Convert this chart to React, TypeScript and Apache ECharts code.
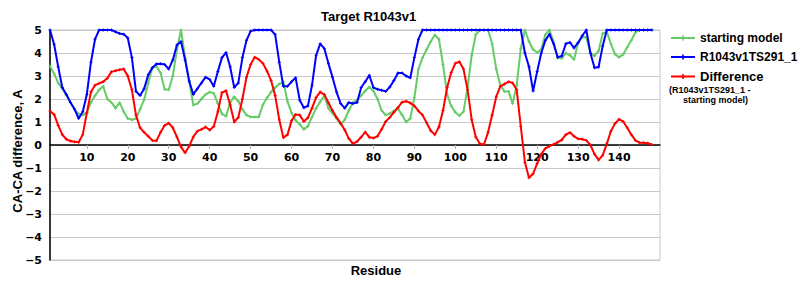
import { useEffect, useRef } from "react";
import * as echarts from "echarts";

// Residue numbers (x positions)
const residues: number[] = Array.from({ length: 148 }, (_, i) => i + 1);

// CA-CA difference of the starting model
const startingModel: number[] = [
  3.43, 3.1, 2.7, 2.46, 2.15, 1.85, 1.55, 1.35, 1.3, 1.4,
  1.85, 2.15, 2.4, 2.55, 2.0, 1.85, 1.6, 1.84, 1.45, 1.15,
  1.1, 1.15, 1.55, 1.97, 2.7, 3.36, 3.42, 3.14, 2.42, 2.4,
  3.0, 4.15, 5.0, 3.8, 2.8, 1.74, 1.8, 2.0, 2.2, 2.3,
  2.25, 1.8, 1.35, 1.25, 1.85, 2.1, 1.9, 1.55, 1.3, 1.22,
  1.22, 1.22, 1.75, 2.05, 2.3, 2.5, 2.65, 2.75, 1.9, 1.4,
  1.08, 0.9, 0.68, 0.82, 1.22, 1.6, 1.88, 2.15, 1.6, 1.38,
  1.15, 0.9, 1.1, 1.5, 1.85, 1.95, 2.15, 2.35, 2.52, 2.35,
  2.0, 1.5, 1.3, 1.37, 1.48, 1.58, 1.3, 1.0, 1.15, 2.05,
  3.3, 3.8, 4.15, 4.5, 4.78, 4.6, 3.5, 2.2, 1.7, 1.42,
  1.27, 1.45, 2.5, 3.9, 4.8, 5.0, 5.0, 5.0, 4.4, 3.3,
  2.6, 2.33, 2.33, 1.8, 2.6, 4.2, 5.0, 4.5, 4.15, 4.02,
  4.16, 4.8, 5.0, 4.5, 3.78, 3.77, 4.0, 3.9, 3.72, 4.45,
  4.68, 4.68, 4.0, 3.87, 4.09, 4.85, 4.92, 4.4, 3.95, 3.82,
  3.94, 4.25, 4.55, 4.9, 5.0, 5.0, 5.0, 5.0,
];

// CA-CA difference of R1043v1TS291_1
const model291: number[] = [
  5.0, 4.38, 3.4, 2.5, 2.2, 1.85, 1.55, 1.15, 1.45, 2.2,
  3.6, 4.6, 5.0, 5.0, 5.0, 5.0, 4.92, 4.85, 4.82, 4.65,
  3.8, 2.33, 2.15, 2.45, 3.05, 3.36, 3.52, 3.53, 3.5, 3.3,
  3.7, 4.35, 4.5, 3.7, 2.77, 2.2, 2.45, 2.7, 2.95, 2.85,
  2.55, 3.2, 3.8, 4.02, 3.4, 2.5, 2.7, 3.8, 4.55, 4.95,
  5.0, 5.0, 5.0, 5.0, 5.0, 4.8, 3.6, 2.55, 2.55, 2.75,
  2.92, 1.95, 1.62, 1.7, 2.6, 3.9, 4.4, 4.2, 3.55, 2.95,
  2.3, 1.8, 1.6, 1.85, 1.8, 1.85, 2.5, 2.75, 3.03, 2.5,
  2.42, 2.38, 2.33, 2.52, 2.8, 3.13, 3.13, 3.0, 2.92, 3.8,
  4.6, 5.0, 5.0, 5.0, 5.0, 5.0, 5.0, 5.0, 5.0, 5.0,
  5.0, 5.0, 5.0, 5.0, 5.0, 5.0, 5.0, 5.0, 5.0, 5.0,
  5.0, 5.0, 5.0, 5.0, 5.0, 5.0, 4.0, 3.4, 2.35, 3.2,
  4.0, 4.55, 4.82, 4.4, 3.82, 3.87, 4.4, 4.46, 4.22, 4.45,
  4.75, 5.0, 4.0, 3.36, 3.39, 4.3, 5.0, 5.0, 5.0, 5.0,
  5.0, 5.0, 5.0, 5.0, 5.0, 5.0, 5.0, 5.0,
];

// Difference (R1043v1TS291_1 - starting model)
const difference: number[] = [
  1.48, 1.33, 0.85, 0.45, 0.25, 0.17, 0.14, 0.12, 0.45, 1.4,
  2.3, 2.6, 2.68, 2.75, 2.9, 3.18, 3.23, 3.27, 3.3, 3.0,
  2.4, 1.3, 0.75, 0.55, 0.38, 0.2, 0.18, 0.55, 0.85, 0.95,
  0.75, 0.35, -0.08, -0.34, -0.05, 0.35, 0.6, 0.68, 0.78, 0.65,
  0.8, 1.45, 2.28, 2.36, 1.75, 1.0, 1.2, 2.0, 2.95, 3.5,
  3.82, 3.72, 3.55, 3.22, 2.8, 2.15, 1.1, 0.32, 0.45, 1.05,
  1.33, 1.3, 1.02, 1.18, 1.6, 2.07, 2.3, 2.2, 1.84, 1.5,
  1.2, 0.95, 0.65, 0.28, 0.06, 0.15, 0.34, 0.56, 0.34, 0.3,
  0.38, 0.68, 1.02, 1.2, 1.42, 1.63, 1.86, 1.9, 1.83, 1.7,
  1.48, 1.3, 0.97, 0.62, 0.45, 0.78, 1.5, 2.5, 3.15, 3.55,
  3.62, 3.3, 2.4, 1.1, 0.35, 0.05, 0.02, 0.55, 1.3, 2.1,
  2.55, 2.65, 2.75, 2.7, 2.4, 0.8, -0.75, -1.42, -1.25, -0.8,
  -0.4, -0.15, -0.05, 0.03, 0.12, 0.22, 0.45, 0.54, 0.38, 0.27,
  0.25, 0.2, 0.0, -0.4, -0.65, -0.45, 0.05, 0.6, 0.93, 1.12,
  1.02, 0.75, 0.45, 0.2, 0.1, 0.1, 0.08, 0.02,
];

const xTickValues: number[] = [10, 20, 30, 40, 50, 60, 70, 80, 90, 100, 110, 120, 130, 140];

const seriesNames = ["starting model", "R1043v1TS291_1", "Difference"];
const seriesColors = ["#66cc66", "#0000ff", "#ff0000"];

const plusSymbol = "path://M1,0L2,0L2,1L3,1L3,2L2,2L2,3L1,3L1,2L0,2L0,1L1,1Z";
const SANS = "'Liberation Sans', Arial, sans-serif";
const TICKFONT = "'DejaVu Sans', Verdana, sans-serif";

export default function App() {
  const ref = useRef<HTMLDivElement>(null);

  useEffect(() => {
    if (!ref.current) return;
    const chart = echarts.init(ref.current, null, { renderer: "svg" });
    const toPairs = (vals: number[]) => residues.map((r, i) => [r, vals[i]]);
    const valueSets = [startingModel, model291, difference];

    chart.setOption({
      animation: false,
      backgroundColor: "#ffffff",
      title: {
        text: "Target R1043v1",
        left: 316,
        top: 5,
        textStyle: { fontFamily: SANS, fontSize: 13, fontWeight: "bold", color: "#000" },
      },
      legend: {
        orient: "vertical",
        left: 665,
        top: 27,
        itemWidth: 24,
        itemHeight: 6,
        itemGap: 7,
        textStyle: { fontFamily: SANS, fontSize: 12, fontWeight: "bold", color: "#000" },
        data: [
          { name: seriesNames[0] },
          { name: seriesNames[1] },
          { name: seriesNames[2], textStyle: { fontSize: 13 } },
        ],
      },
      grid: {
        left: 50,
        right: 140,
        top: 30,
        bottom: 40,
        show: true,
        borderColor: "#c8c8c8",
        borderWidth: 1,
        backgroundColor: "transparent",
      },
      xAxis: {
        type: "value",
        min: 1,
        max: 150,
        position: "bottom",
        offset: -115,
        axisLine: { show: true, onZero: false, lineStyle: { color: "#000", width: 1.5 } },
        axisTick: {
          show: true,
          customValues: xTickValues,
          length: 4,
          lineStyle: { color: "#b0b0b0" },
        },
        axisLabel: {
          customValues: xTickValues,
          fontFamily: TICKFONT,
          fontSize: 11,
          fontWeight: "bold",
          color: "#000",
          margin: 7,
        },
        splitLine: { show: false },
      },
      yAxis: {
        type: "value",
        min: -5,
        max: 5,
        interval: 1,
        axisLine: { show: true, onZero: false, lineStyle: { color: "#000", width: 1.5 } },
        axisTick: { show: false },
        axisLabel: {
          fontFamily: TICKFONT,
          fontSize: 11,
          fontWeight: "bold",
          color: "#000",
          margin: 8,
          formatter: (v: number) => String(v).replace("-", "\u2212"),
        },
        splitLine: { show: true, lineStyle: { color: "#c8c8c8", width: 1 } },
      },
      graphic: [
        {
          type: "text",
          x: 17,
          y: 151,
          rotation: Math.PI / 2,
          style: {
            text: "CA-CA difference, A",
            font: `bold 13px ${SANS}`,
            fill: "#000",
            align: "center",
            verticalAlign: "middle",
          },
        },
        {
          type: "text",
          x: 376,
          y: 270,
          style: {
            text: "Residue",
            font: `bold 13px ${SANS}`,
            fill: "#000",
            align: "center",
            verticalAlign: "middle",
          },
        },
        {
          type: "text",
          x: 669,
          y: 90,
          style: {
            text: "(R1043v1TS291_1 -",
            font: `bold 9px ${SANS}`,
            fill: "#000",
            align: "left",
            verticalAlign: "middle",
          },
        },
        {
          type: "text",
          x: 683,
          y: 100,
          style: {
            text: "starting model)",
            font: `bold 9px ${SANS}`,
            fill: "#000",
            align: "left",
            verticalAlign: "middle",
          },
        },
      ],
      series: valueSets.map((vals, i) => ({
        name: seriesNames[i],
        type: "line",
        data: toPairs(vals),
        color: seriesColors[i],
        symbol: plusSymbol,
        symbolSize: 3,
        showSymbol: true,
        lineStyle: { color: seriesColors[i], width: 2 },
        itemStyle: { color: seriesColors[i] },
        z: 2 + i,
      })),
    });

    return () => chart.dispose();
  }, []);

  return (
    <div
      ref={ref}
      style={{ position: "absolute", left: 0, top: 0, width: 800, height: 300, background: "#fff" }}
    />
  );
}
